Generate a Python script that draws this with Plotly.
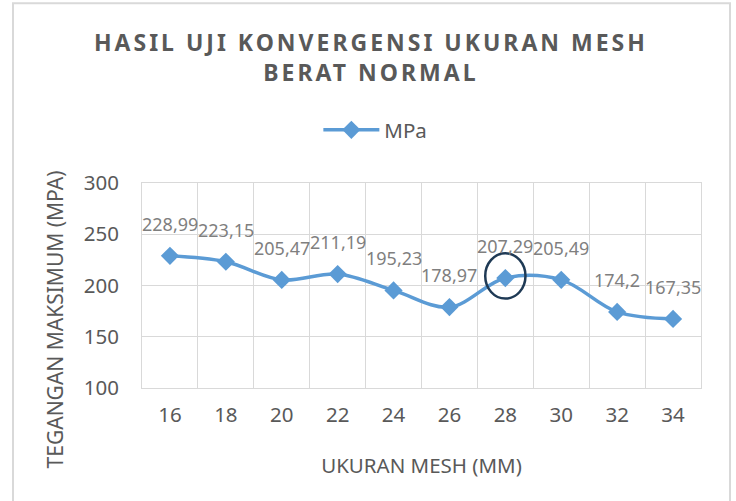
import plotly.graph_objects as go

# ---- data ----
mesh_sizes = ["16", "18", "20", "22", "24", "26", "28", "30", "32", "34"]
tegangan_mpa = [228.99, 223.15, 205.47, 211.19, 195.23, 178.97, 207.29, 205.49, 174.2, 167.35]
data_labels = [str(v).replace(".", ",") for v in tegangan_mpa]
y_ticks = [100, 150, 200, 250, 300]
highlight_index = 6  # mesh 28 circled

title_line1 = "HASIL UJI KONVERGENSI UKURAN MESH"
title_line2 = "BERAT NORMAL"
series_name = "MPa"
x_title = "UKURAN MESH (MM)"
y_title = "TEGANGAN MAKSIMUM (MPA)"

BLUE = "#5B9BD5"
GRID = "#D9D9D9"
TXT = "#595959"
LBL = "#7F7F7F"
FONT = "Noto Sans"

fig = go.Figure()
fig.add_trace(go.Scatter(
    x=mesh_sizes, y=tegangan_mpa, name=series_name,
    mode="lines+markers",
    line=dict(color=BLUE, width=3.5, shape="spline", smoothing=1.0),
    marker=dict(symbol="diamond", size=14, color=BLUE),
    showlegend=True,
))

annotations = []
for i, (yv, t) in enumerate(zip(tegangan_mpa, data_labels)):
    annotations.append(dict(
        x=i, y=yv, text=t, showarrow=False, xref="x", yref="y",
        yshift=32, xanchor="center", yanchor="middle",
        font=dict(family=FONT, size=18, color=LBL),
    ))

# y-axis title as rotated annotation (offset like reference)
annotations.append(dict(
    x=-0.1555, y=0.335, xref="paper", yref="paper", text=y_title,
    textangle=-90, showarrow=False, xanchor="center", yanchor="middle",
    font=dict(family=FONT, size=21, color=TXT),
))

shapes = [
    # circle around highlighted point
    dict(type="circle", xref="x", yref="y",
         x0=highlight_index - 0.36, x1=highlight_index + 0.36,
         y0=187.2, y1=231.4,
         line=dict(color="#1F3A55", width=2.5), layer="above"),
    # outer chart border
    dict(type="rect", xref="paper", yref="paper",
         x0=-0.2308, x1=1.0519, y0=-0.62, y1=1.877,
         line=dict(color=GRID, width=2), layer="below"),
]

fig.update_layout(
    template="none",
    width=736, height=501,
    margin=dict(l=142, r=35, t=183, b=113, autoexpand=False),
    paper_bgcolor="white", plot_bgcolor="white",
    font=dict(family=FONT, color=TXT),
    title=dict(
        text=('<span style="letter-spacing:3px">' + title_line1 + '</span><br>'
              '<span style="letter-spacing:3px">' + title_line2 + '</span>'),
        x=0.504, xanchor="center", xref="container",
        y=0.898, yanchor="top", yref="container",
        font=dict(family=FONT, size=23, color=TXT, weight="bold"),
    ),
    legend=dict(
        orientation="h", xref="container", yref="container",
        x=0.51, xanchor="center", y=1 - 130 / 501, yanchor="middle",
        font=dict(family=FONT, size=20.5, color=TXT),
        itemwidth=56, bgcolor="rgba(0,0,0,0)",
    ),
    xaxis=dict(
        type="category", tickson="boundaries", range=[-0.5, 9.5],
        automargin=False,
        showgrid=True, gridcolor=GRID, gridwidth=1,
        showline=True, linecolor=GRID, linewidth=1, mirror=True,
        ticks="", ticklabelstandoff=8, tickangle=0,
        tickfont=dict(family=FONT, size=20.5, color=TXT),
        title=dict(text=x_title, standoff=32,
                   font=dict(family=FONT, size=20.5, color=TXT)),
        zeroline=False,
    ),
    yaxis=dict(
        range=[100, 300], tickvals=y_ticks, automargin=False,
        showgrid=True, gridcolor=GRID, gridwidth=1,
        showline=True, linecolor=GRID, linewidth=1, mirror=True,
        ticks="", ticklabelstandoff=18,
        tickfont=dict(family=FONT, size=20.5, color=TXT),
        zeroline=False,
    ),
    annotations=annotations,
    shapes=shapes,
)

fig.write_html("out.html",
               config={"displayModeBar": False, "staticPlot": True},
               post_script="document.body.style.margin='0';")
